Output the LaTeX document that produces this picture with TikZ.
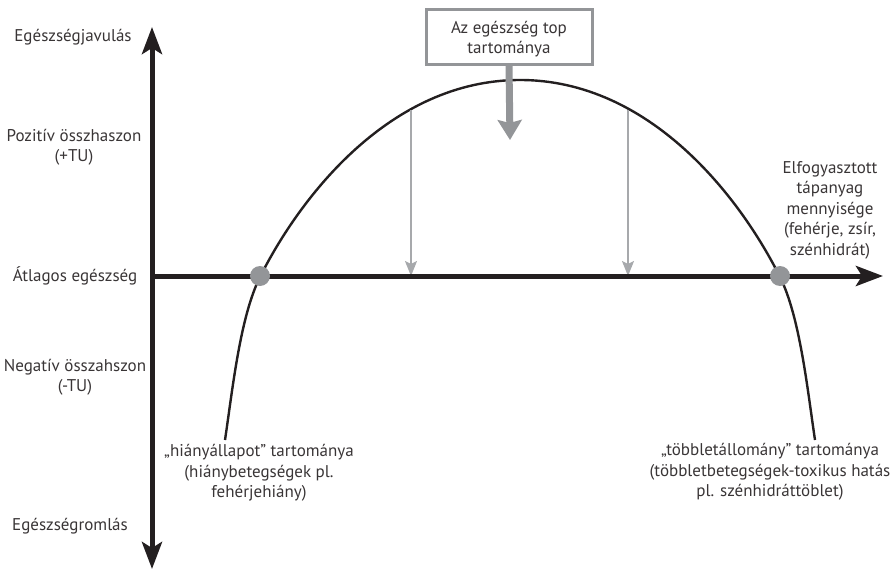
\documentclass[tikz,border=0pt]{standalone}
\usepackage{fontspec}
\setmainfont{PT Sans}
\usetikzlibrary{arrows.meta}
\definecolor{axisblack}{HTML}{231F20}
\definecolor{midgray}{HTML}{939598}
\definecolor{lightgray}{HTML}{A7A9AC}
\tikzset{
  lbl/.style={font=\fontsize{17}{20.5}\selectfont, align=center, inner sep=0pt, text=axisblack!90},
  axisline/.style={line width=5pt, draw=axisblack},
  curveline/.style={line width=2.4pt, draw=axisblack},
  thinarrow/.style={line width=2pt, draw=lightgray, -{Stealth[length=15pt,width=12pt,inset=3pt]}},
  dotnode/.style={circle, fill=midgray, minimum size=20pt, inner sep=0pt},
  topbox/.style={draw=midgray, line width=3pt, fill=white, minimum width=166pt, minimum height=55pt, align=center, font=\fontsize{17}{20.5}\selectfont, text=axisblack!90, inner sep=0pt},
  boxarrow/.style={line width=7pt, draw=midgray, -{Stealth[length=20pt,width=24pt,inset=3pt]}}
}
\begin{document}
\begin{tikzpicture}[x=1pt,y=-1pt]
\useasboundingbox (0,0) rectangle (894,570);
% curve
\draw[curveline] (225,440) .. controls (232.5,390) and (240,317) .. (260,277)
  .. controls (300,197) and (390,80) .. (520,80)
  .. controls (650,80) and (740,197) .. (780,277)
  .. controls (800,317) and (807.5,390) .. (815,440);
% coordinates
\coordinate (ytop) at (152,27);
\coordinate (ybot) at (152,569);
\coordinate (xstart) at (150,276);
\coordinate (xend) at (883,276);
\coordinate (aLtop) at (411,110);
\coordinate (aLbot) at (411,276);
\coordinate (aRtop) at (628,110);
\coordinate (aRbot) at (628,276);
\coordinate (btip) at (510,140);
% thin arrows
\draw[thinarrow] (aLtop) -- (aLbot);
\draw[thinarrow] (aRtop) -- (aRbot);
% axes
\draw[axisline, {Stealth[length=27pt,width=20pt,inset=6pt]}-{Stealth[length=27pt,width=20pt,inset=6pt]}] (ybot) -- (ytop);
\draw[axisline, -{Stealth[length=27pt,width=20pt,inset=6pt]}] (xstart) -- (xend);
% dots
\node[dotnode] (dotL) at (260,276) {};
\node[dotnode] (dotR) at (780,276) {};
% top box
\node[topbox] (box) at (509,37) {};
\node[lbl] (boxtext) at (509,39) {Az egészség top\\tartománya};
\draw[boxarrow] (box.south) -- (btip);
% labels
\node[lbl] (l1) at (73,37) {Egészségjavulás};
\node[lbl] (l2) at (74,147) {Pozitív összhaszon\\(+TU)};
\node[lbl] (l3) at (75,276) {Átlagos egészség};
\node[lbl] (l4) at (75,377) {Negatív összahszon\\(-TU)};
\node[lbl] (l5) at (70,526) {Egészségromlás};
\node[lbl] (l6) at (259,473) {„hiányállapot” tartománya\\(hiánybetegségek pl.\\fehérjehiány)};
\node[lbl] (l7) at (770,472) {„többletállomány” tartománya\\(többletbetegségek-toxikus hatás\\pl. szénhidráttöblet)};
\node[lbl] (l8) at (830,210) {Elfogyasztott\\tápanyag\\mennyisége\\(fehérje, zsír,\\szénhidrát)};
\end{tikzpicture}
\end{document}
